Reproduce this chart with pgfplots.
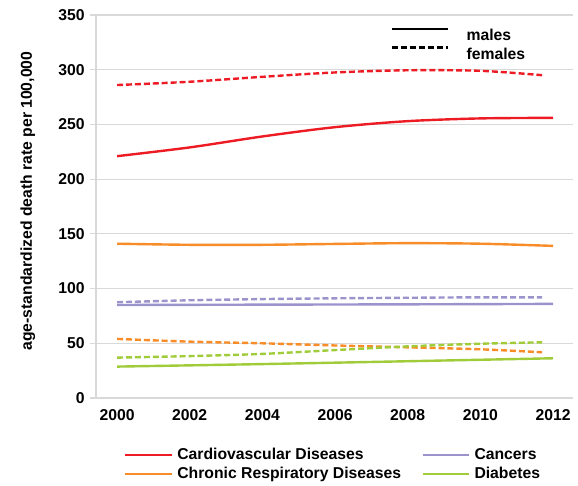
\documentclass[border=0pt]{standalone}
\usepackage{fontspec}
\setmainfont{Liberation Sans}
\usepackage{pgfplots}
\pgfplotsset{compat=1.18}
\definecolor{cvd}{RGB}{237,28,36}
\definecolor{crd}{RGB}{247,140,40}
\definecolor{can}{RGB}{155,148,204}
\definecolor{dia}{RGB}{160,204,58}
\definecolor{gridc}{RGB}{217,217,217}
\begin{document}
\begin{tikzpicture}[font=\fontsize{11.8}{13.5}\selectfont\bfseries]
\begin{axis}[
  at={(0,0)}, anchor=south west,
  scale only axis, width=357.75pt, height=287.25pt,
  xmin=1999.42, xmax=2012.55, ymin=0, ymax=350,
  xtick={2000,2002,2004,2006,2008,2010,2012},
  xticklabels={2000,2002,2004,2006,2008,2010,2012},
  ytick={0,50,100,150,200,250,300,350},
  /pgf/number format/assume math mode=true,
  axis lines*=left,
  x axis line style={draw=none},
  y axis line style={gridc, line width=0.8pt},
  xtick style={draw=none},
  ytick style={gridc, line width=0.8pt},
  tick align=outside, major tick length=4.5pt,
  ymajorgrids, grid style={gridc, line width=0.8pt},
  xticklabel style={yshift=-0.5pt},
  yticklabel style={xshift=-0.5pt},
  ylabel={age-standardized death rate per 100,000},
  ylabel style={at={(axis description cs:-0.143,0.514)}, anchor=center},
  every axis plot/.append style={line width=1.8pt, smooth},
  legend style={at={(axis description cs:0.05,-0.117)}, anchor=north west, draw=none, fill=none,
    legend columns=2, /tikz/every even column/.append style={column sep=13pt}, row sep=0pt},
  legend cell align=left,
  legend image code/.code={\draw[#1, line width=1.9pt] (0pt,0pt) -- (35pt,0pt); \path[draw=none] (0pt,0pt) -- (37pt,0pt);},
]
\addlegendimage{cvd}\addlegendentry{Cardiovascular Diseases}
\addlegendimage{can}\addlegendentry{Cancers}
\addlegendimage{crd}\addlegendentry{Chronic Respiratory Diseases}
\addlegendimage{dia}\addlegendentry{Diabetes}
% Cardiovascular males
\addplot[cvd, forget plot] coordinates {(2000,221) (2002,229) (2004,239) (2006,247.5) (2008,253) (2010,255.5) (2012,256)};
% Cardiovascular females
\addplot[cvd, dash pattern=on 4.5pt off 2.2pt, forget plot] coordinates {(2000,286) (2002,289) (2004,293.5) (2006,297.5) (2008,299.5) (2010,299) (2011.7,295)};
% Chronic resp males
\addplot[crd, forget plot] coordinates {(2000,141) (2002,140) (2004,140) (2006,140.8) (2008,141.5) (2010,141) (2012,139)};
% Chronic resp females
\addplot[crd, dash pattern=on 4.5pt off 2.2pt, forget plot] coordinates {(2000,54) (2002,51.5) (2004,50) (2006,48) (2008,46.3) (2010,44.5) (2011.7,41.8)};
% Cancers males
\addplot[can, forget plot] coordinates {(2000,85) (2004,85.3) (2008,85.6) (2012,86)};
% Cancers females
\addplot[can, dash pattern=on 4.5pt off 2.2pt, forget plot] coordinates {(2000,87.5) (2002,89.3) (2004,90.4) (2006,91.1) (2008,91.6) (2010,92) (2011.7,92)};
% Diabetes males
\addplot[dia, forget plot] coordinates {(2000,28.7) (2004,31) (2008,33.6) (2012,36.3)};
% Diabetes females
\addplot[dia, dash pattern=on 4.5pt off 2.2pt, forget plot] coordinates {(2000,36.9) (2002,38.3) (2004,40.3) (2006,43.8) (2008,47.2) (2010,49.6) (2011.7,50.9)};
\end{axis}
\begin{axis}[
  at={(0,0)}, anchor=south west,
  scale only axis, width=357.75pt, height=287.25pt,
  xmin=0, xmax=1, ymin=0, ymax=1, hide axis,
  legend style={at={(axis description cs:0.609,0.977)}, anchor=north west, draw=none, fill=none,
    row sep=0pt},
  legend cell align=left,
  legend image code/.code={\draw[#1, line width=1.8pt] (0pt,5.5pt) -- (42pt,5.5pt); \path[draw=none] (0pt,0pt) -- (54pt,0pt);},
]
\addlegendimage{black}\addlegendentry{males}
\addlegendimage{black, line width=1.8pt, dash pattern=on 4.5pt off 2.2pt}\addlegendentry{females}
\end{axis}
\path[use as bounding box] (-72pt,-65.25pt) rectangle (361.5pt,298.5pt);
\end{tikzpicture}
\end{document}
